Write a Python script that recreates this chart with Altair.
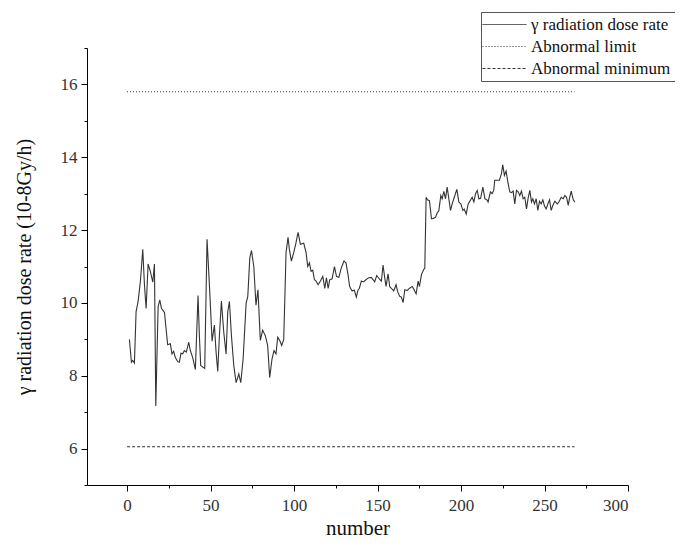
import altair as alt
import pandas as pd

# sample number / gamma dose rate
numbers = [
    1.4, 2.6, 3.4, 4.4, 5.4, 6.6, 8.0, 9.4, 10.4, 11.4, 12.6, 13.9, 15.4, 16.4, 17.2, 18.6,
    19.6, 20.6, 22.4, 24.3, 25.9, 26.9, 27.9, 28.9, 30.3, 31.3, 32.3, 33.3, 34.3, 35.5, 36.9,
    37.9, 39.3, 40.9, 42.5, 43.3, 44.1, 45.3, 46.5, 47.9, 49.5,
    50.9, 52.3, 53.3, 54.3, 55.3, 56.5, 57.9, 59.3, 60.3, 61.3, 62.5, 63.9, 65.3, 66.9, 68.1,
    69.5, 71.3, 72.3, 73.5, 74.5, 75.9, 77.2, 78.4, 79.8, 81.2, 82.8, 84.2, 85.4, 86.8, 88.0,
    89.2, 90.2, 91.4, 92.6, 93.8, 94.6, 95.2, 96.4, 97.2, 98.4, 99.8, 101.2, 102.4, 103.8,
    105.8, 107.2, 108.2, 109.2, 110.2, 111.2, 112.2, 113.2, 114.4, 115.8, 117.2, 118.4, 119.4,
    120.4, 121.4, 122.8, 124.2, 125.4, 126.8, 128.3, 129.9, 131.1, 132.3, 133.3, 134.7, 136.1,
    137.3, 138.3, 139.1, 140.3, 141.7, 143.1, 144.7, 146.3, 147.3, 148.3, 149.5, 151.1, 152.3,
    153.3, 154.3, 155.1, 156.3, 157.3,
    158.7, 159.7, 161.1, 162.1, 163.3, 164.3, 165.3, 166.3, 167.7, 169.1, 170.7, 171.7, 173.1,
    174.3, 175.1, 176.3, 177.7, 178.3, 179.1, 179.9, 181.1, 182.3, 183.5, 184.7, 185.9, 186.7,
    187.9, 188.7, 189.7, 190.7, 191.7, 192.7, 193.7, 194.7, 196.3, 197.5, 198.7, 199.9, 201.1,
    201.9, 203.1, 204.3, 205.5, 206.7, 207.7, 208.7, 209.7, 210.7, 211.7,
    213.1, 214.3, 215.5, 216.2, 217.6, 218.6, 219.6, 220.2, 221.6, 223.0, 224.2, 225.0, 226.0,
    227.0, 228.2, 229.2, 230.2, 231.2, 232.2, 233.2, 234.2, 235.2, 236.2, 237.2, 238.2, 239.2,
    240.2, 241.2, 242.2, 243.0, 244.0, 245.0, 246.0, 247.0, 248.0, 249.0, 250.0, 251.0, 252.0,
    253.0, 254.0, 255.0, 256.2, 257.6, 258.6, 260.0, 261.2, 262.2, 263.2, 264.2, 265.0, 266.0,
    267.2, 268.2,
]
dose = [
    9.0, 8.37, 8.42, 8.35, 9.76, 10.04, 10.6, 11.47, 10.5, 9.85, 11.07, 10.87, 10.57, 11.07, 7.17, 9.9,
    10.08, 9.85, 9.74, 8.85, 8.88, 8.6, 8.67, 8.5, 8.39, 8.37, 8.62, 8.6, 8.69, 8.65, 8.92,
    8.69, 8.5, 8.17, 10.2, 9.1, 8.28, 8.24, 8.2, 11.75, 10.32,
    8.95, 9.39, 8.65, 8.12, 9.1, 10.05, 9.2, 8.6, 9.76, 10.04, 9.1, 8.28, 7.81, 8.05, 7.81,
    8.46, 9.99, 10.18, 11.24, 11.44, 11.0, 9.94, 10.36, 8.97, 9.25, 9.1, 8.83, 7.95, 8.46, 8.69,
    8.6, 9.06, 8.97, 8.83, 8.99, 10.32, 11.38, 11.8, 11.47, 11.15, 11.38, 11.66, 11.94, 11.61,
    11.64, 11.38, 11.0, 11.1, 10.87, 10.9, 10.64, 10.6, 10.5, 10.6, 10.73, 10.4, 10.69,
    10.4, 10.64, 10.66, 11.0, 10.73, 10.7, 10.96, 11.15, 11.1, 10.78, 10.45, 10.33, 10.35,
    10.16, 10.35, 10.4, 10.6, 10.58, 10.64, 10.69, 10.7, 10.64, 10.58, 10.75, 10.66, 10.6,
    11.04, 10.69, 10.45, 10.8, 10.45,
    10.38, 10.33, 10.5, 10.3, 10.18, 10.16, 10.01, 10.36, 10.34, 10.4, 10.45, 10.38, 10.25,
    10.6, 10.45, 10.78, 10.92, 10.95, 12.9, 12.83, 12.81, 12.31, 12.32, 12.35, 12.49, 12.53,
    12.95, 12.86, 13.06, 12.86, 13.18, 12.86, 12.54, 12.72, 12.95, 13.12, 12.77, 12.72, 12.54,
    12.58, 12.44, 12.72, 12.81, 12.9, 12.77, 13.0, 13.09, 12.86, 12.87,
    13.18, 12.86, 12.83, 12.77, 13.05, 13.0, 13.09, 13.37, 13.37, 13.37, 13.55, 13.79, 13.5,
    13.62, 13.28, 13.05, 13.03, 13.07, 12.72, 13.09, 13.05, 12.95, 13.07, 12.86, 12.9, 12.58,
    12.88, 13.09, 12.77, 12.86, 12.72, 12.86, 12.54, 12.79, 12.72, 12.83, 12.66, 12.58, 12.72,
    12.83, 12.54, 12.68, 12.79, 12.72, 12.77, 12.9, 12.86, 12.95, 12.9, 12.68, 12.88, 13.07,
    12.83, 12.77,
]

series_names = ["γ radiation dose rate", "Abnormal limit", "Abnormal minimum"]
ref_numbers = [0, 268]
limit_value = 15.8
minimum_value = 6.05

x_ticks = list(range(0, 301, 25))
y_ticks = list(range(5, 18))

rows = [{"number": n, "value": v, "series": series_names[0]} for n, v in zip(numbers, dose)]
rows += [{"number": n, "value": limit_value, "series": series_names[1]} for n in ref_numbers]
rows += [{"number": n, "value": minimum_value, "series": series_names[2]} for n in ref_numbers]
df = pd.DataFrame(rows)

FONT = "Liberation Serif"

chart = alt.Chart(df).mark_line(strokeWidth=1.1, color="#333333").encode(
    x=alt.X(
        "number:Q",
        title="number",
        scale=alt.Scale(domain=[-24, 300], nice=False, zero=False),
        axis=alt.Axis(
            values=x_ticks,
            labelExpr="datum.value % 50 === 0 ? datum.label : ''",
            tickSize={"condition": {"test": "datum.value % 50 === 0", "value": 6}, "value": 3},
            grid=False,
            domainColor="#000000",
            tickColor="#000000",
            labelColor="#333333",
            labelFont=FONT,
            labelFontSize=17,
            labelPadding=6,
            titleFont=FONT,
            titleFontSize=21,
            titleFontWeight="normal",
            titleColor="#111111",
            titlePadding=4,
        ),
    ),
    y=alt.Y(
        "value:Q",
        title="γ radiation dose rate (10-8Gy/h)",
        scale=alt.Scale(domain=[5, 17], nice=False, zero=False),
        axis=alt.Axis(
            values=y_ticks,
            labelExpr="datum.value % 2 === 0 && datum.value > 5 && datum.value < 17 ? datum.label : ''",
            tickSize={"condition": {"test": "datum.value % 2 === 0", "value": 6}, "value": 3},
            grid=False,
            domainColor="#000000",
            tickColor="#000000",
            labelColor="#333333",
            labelFont=FONT,
            labelFontSize=17,
            labelPadding=4,
            titleFont=FONT,
            titleFontSize=20,
            titleFontWeight="normal",
            titleColor="#111111",
            titlePadding=26,
        ),
    ),
    strokeDash=alt.StrokeDash(
        "series:N",
        scale=alt.Scale(domain=series_names, range=[[1, 0], [1, 2], [3, 2]]),
        legend=alt.Legend(
            title=None,
            orient="none",
            legendX=394,
            legendY=-36,
            symbolType="M-2,0H6",
            symbolSize=121,
            symbolStrokeWidth=1,
            symbolStrokeColor="#333333",
            labelFont=FONT,
            labelFontSize=17,
            labelColor="#111111",
            labelOffset=29,
            strokeColor="#555555",
            fillColor="#ffffff",
            padding=4,
            rowPadding=4,
        ),
    ),
).properties(
    width=541,
    height=437,
    background="#ffffff",
    autosize=alt.AutoSizeParams(type="none"),
    padding={"left": 79, "top": 40, "right": 47, "bottom": 55},
).configure_view(stroke=None)

chart.save("out.html", embed_options={"renderer": "svg", "actions": False})
